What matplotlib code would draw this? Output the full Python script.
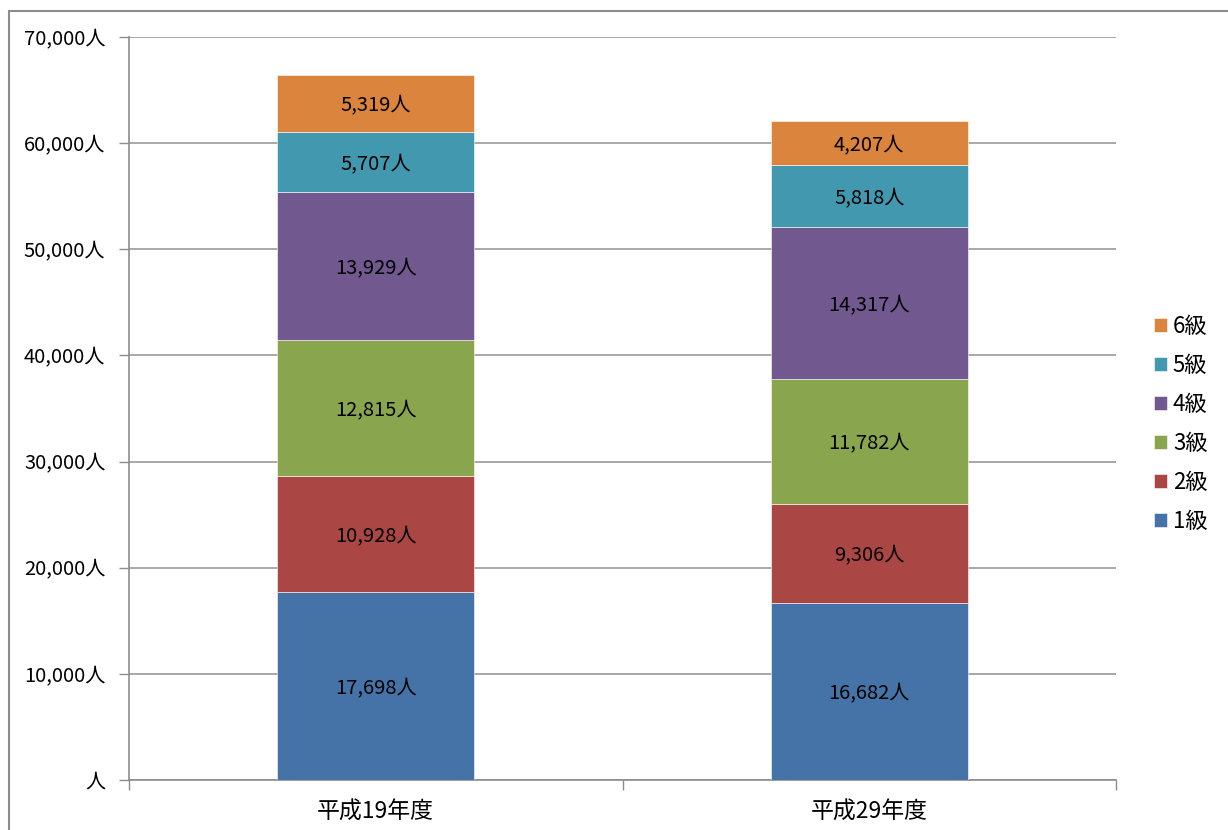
import numpy as np
import matplotlib.pyplot as plt
from matplotlib.patches import Rectangle

plt.rcParams['font.family'] = ['Noto Sans CJK JP', 'DejaVu Sans']

# 年度別・級別の人数
years = ['平成19年度', '平成29年度']
grades = ['1級', '2級', '3級', '4級', '5級', '6級']
grade1 = [17698, 16682]
grade2 = [10928, 9306]
grade3 = [12815, 11782]
grade4 = [13929, 14317]
grade5 = [5707, 5818]
grade6 = [5319, 4207]
series = [grade1, grade2, grade3, grade4, grade5, grade6]
colors = ['#4572A7', '#AA4643', '#89A54E', '#71588F', '#4198AF', '#DB843D']

W, H = 1228, 830
fig = plt.figure(figsize=(W / 100, H / 100), dpi=100)
ax = fig.add_axes([129 / W, 1 - 780 / H, (1116 - 129) / W, (780 - 37) / H])

# 外枠
fig.patches.append(Rectangle((9 / W, -0.05), 1.2, 1 - 11 / H + 0.05,
                             transform=fig.transFigure, fill=False,
                             edgecolor='#8c8c8c', linewidth=1.5))

x = np.arange(len(years))
bottom = np.zeros(len(years))
handles = []
for vals, name, c in zip(series, grades, colors):
    vals = np.array(vals)
    b = ax.bar(x, vals, width=0.4, bottom=bottom, color=c, label=name,
               edgecolor='white', linewidth=0.4, zorder=3)
    handles.append(b)
    for xi, v, bt in zip(x, vals, bottom):
        ax.text(xi, bt + v / 2, f'{v:,}人', ha='center', va='center_baseline',
                fontsize=14.5, color='black', zorder=4)
    bottom += vals

ax.set_xlim(-0.5, 1.5)
ax.set_ylim(0, 70000)
yt = np.arange(0, 70001, 10000)
ax.set_yticks(yt)
ax.set_yticklabels(['人' if v == 0 else f'{v:,}人' for v in yt], fontsize=14.5)
ax.set_xticks(x)
ax.set_xticklabels(years, fontsize=16.5)
ax.set_xticks([-0.5, 0.5, 1.5], minor=True)
ax.tick_params(axis='x', which='major', length=0, pad=15)
ax.tick_params(axis='x', which='minor', length=7, color='#8c8c8c', width=1)
ax.tick_params(axis='y', length=7, color='#8c8c8c', width=1, pad=10)
ax.yaxis.grid(True, color='#999999', linewidth=1.2, zorder=0)
ax.set_axisbelow(True)
for s in ['top', 'right']:
    ax.spines[s].set_visible(False)
for s in ['left', 'bottom']:
    ax.spines[s].set_color('#8c8c8c')
    ax.spines[s].set_linewidth(1.2)

ax.legend(handles[::-1], grades[::-1], loc='center left',
          bbox_to_anchor=(1134 / W, 1 - 424 / H), bbox_transform=fig.transFigure,
          frameon=False, fontsize=16, handlelength=0.6, handleheight=0.6,
          handletextpad=0.25, labelspacing=0.72)

fig.savefig('out.png', dpi=100)
